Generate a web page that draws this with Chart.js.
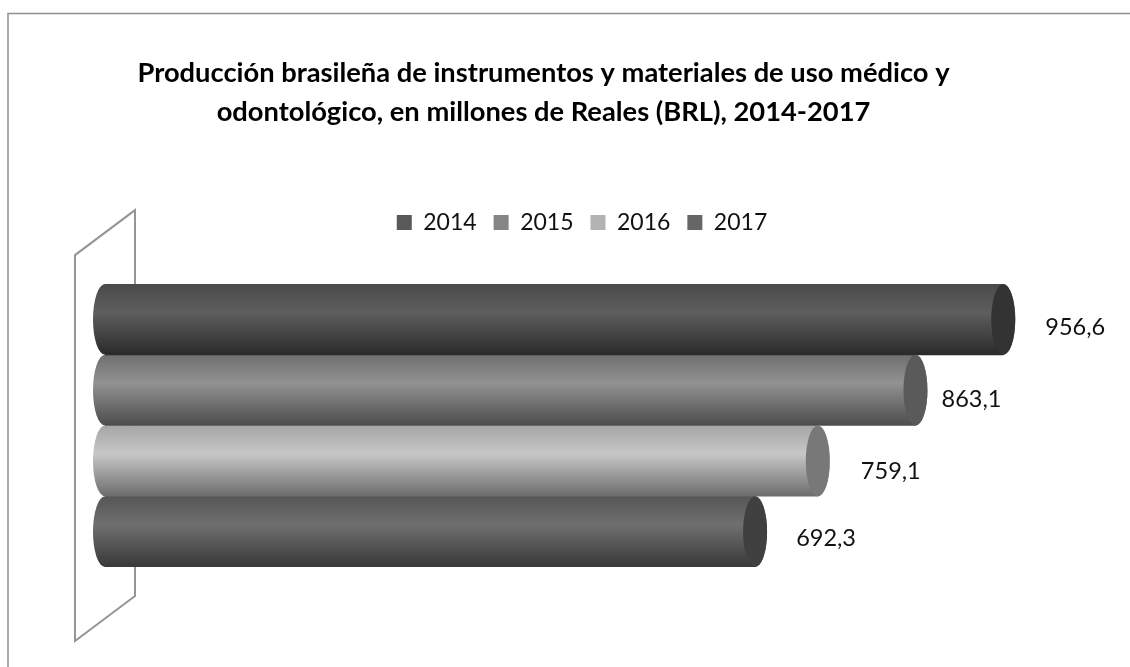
<!DOCTYPE html>
<html><head><meta charset="utf-8">
<style>html,body{margin:0;padding:0;background:#fff}#w{width:1130px;height:667px}</style>
<script src="https://cdn.jsdelivr.net/npm/chart.js@4"></script>
</head><body><div id="w"><canvas id="c" width="1130" height="667"></canvas></div>
<script>
const titleLines = ['Producción brasileña de instrumentos y materiales de uso médico y','odontológico, en millones de Reales (BRL), 2014-2017'];
const categories = ['Producción'];
const years = ['2014','2015','2016','2017'];
const values = [956.6,863.1,759.1,692.3];
const legendColors = ['#595959','#858585','#b3b3b3','#666666'];
const capColors = ['#333333','#5a5a5a','#787878','#404040'];
const gradientStops = [
  ['#4a4a4a','#5e5e5e','#2a2a2a'],
  ['#6f6f6f','#929292','#4c4c4c'],
  ['#a6a6a6','#c7c7c7','#6c6c6c'],
  ['#565656','#6f6f6f','#383838']
];
const labelShift = [[72,8],[56,9],[73,11],[71,7]];

function barGradient(chart,i){
  const a=chart.chartArea; if(!a) return legendColors[i];
  const h=(a.bottom-a.top)/years.length, t=a.top+h*i;
  const g=chart.ctx.createLinearGradient(0,t,0,t+h);
  const s=gradientStops[i];
  g.addColorStop(0,s[0]); g.addColorStop(0.4,s[1]); g.addColorStop(1,s[2]);
  return g;
}
const RX=12;
const cylinder={
  id:'cylinder',
  afterLayout(chart){
    const dxT=-31, dxL=7.5, upL=40;
    const t=chart.titleBlock; t.left+=dxT; t.right+=dxT;
    const l=chart.legend; l.left+=dxL; l.right+=dxL; l.top-=upL; l.bottom-=upL;
  },
  beforeDraw(chart){
    const c=chart.ctx; c.save();
    c.fillStyle='#fff'; c.fillRect(0,0,chart.width,chart.height);
    c.strokeStyle='#8f8f8f'; c.lineWidth=1.5;
    c.beginPath(); c.moveTo(8,chart.height); c.lineTo(8,13.5); c.lineTo(chart.width,13.5); c.stroke();
    c.restore();
  },
  beforeDatasetsDraw(chart){
    const c=chart.ctx,a=chart.chartArea; c.save();
    c.strokeStyle='#959595'; c.lineWidth=2;
    c.beginPath();
    c.moveTo(a.left+30,a.bottom+29); c.lineTo(a.left-30,a.bottom+74);
    c.lineTo(a.left-30,a.top-29); c.lineTo(a.left+30,a.top-74); c.closePath(); c.stroke();
    years.forEach((y,i)=>{
      const b=chart.getDatasetMeta(i).data[0];
      c.fillStyle=barGradient(chart,i);
      c.beginPath(); c.ellipse(b.base,b.y,RX,b.height/2,0,0,Math.PI*2); c.fill();
    });
    c.restore();
  },
  afterDatasetsDraw(chart){
    const c=chart.ctx; c.save();
    years.forEach((y,i)=>{
      const b=chart.getDatasetMeta(i).data[0];
      c.fillStyle=barGradient(chart,i);
      c.beginPath(); c.ellipse(b.x,b.y,RX,b.height/2,0,-Math.PI/2,Math.PI/2); c.fill();
      c.fillStyle=capColors[i];
      c.beginPath(); c.ellipse(b.x,b.y,RX,b.height/2,0,0,Math.PI*2); c.fill();
      c.fillStyle='#111'; c.font='23.5px Lato'; c.textAlign='center'; c.textBaseline='middle';
      c.fillText(values[i].toFixed(1).replace('.',','),b.x+labelShift[i][0],b.y+labelShift[i][1]);
    });
    c.restore();
  }
};
new Chart(document.getElementById('c'),{
  type:'bar',
  plugins:[cylinder],
  data:{labels:categories,datasets:years.map((y,i)=>({
    label:y,data:[values[i]],
    backgroundColor:(ctx)=>barGradient(ctx.chart,i),
    borderWidth:0,barPercentage:1,categoryPercentage:1
  }))},
  options:{
    indexAxis:'y',responsive:false,animation:false,
    layout:{padding:{left:105,right:86,top:0,bottom:100}},
    scales:{x:{display:false,min:0,max:1000},y:{display:false}},
    plugins:{
      tooltip:{enabled:false},
      title:{display:true,text:titleLines,color:'#000',
        font:{family:'Lato',size:27.3,weight:'bold',lineHeight:1.43},
        padding:{top:54,bottom:102}},
      legend:{position:'top',labels:{boxWidth:15,boxHeight:15,padding:17,color:'#111',
        font:{family:'Lato',size:23},
        generateLabels:()=>years.map((y,i)=>({text:y,fillStyle:legendColors[i],strokeStyle:legendColors[i],lineWidth:0,datasetIndex:i,hidden:false,fontColor:'#111'}))
      }}
    }
  }
});
</script></body></html>
